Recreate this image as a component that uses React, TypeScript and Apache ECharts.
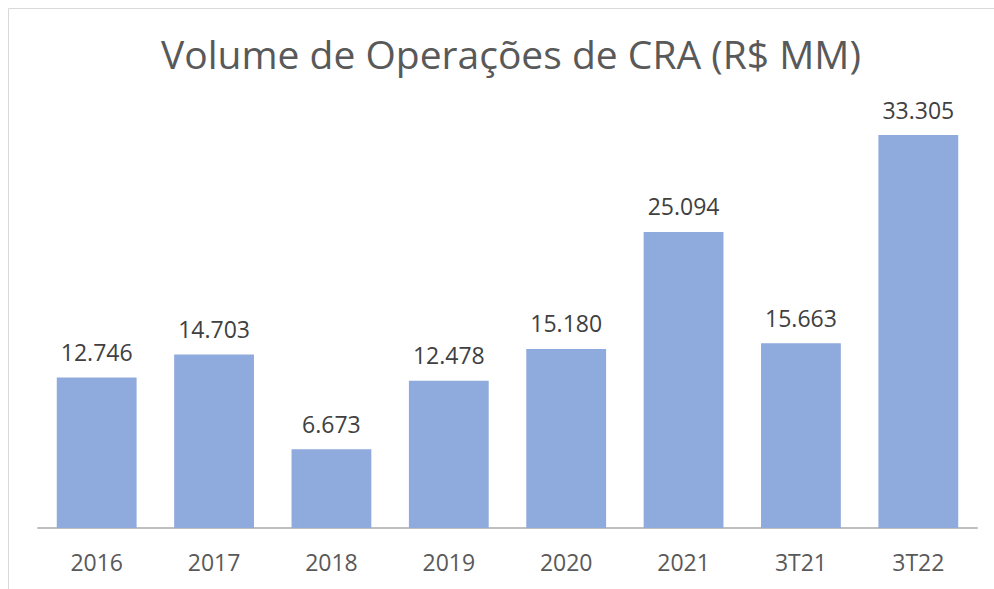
import React, { useEffect, useRef } from "react";
import * as echarts from "echarts";

const categories = ["2016", "2017", "2018", "2019", "2020", "2021", "3T21", "3T22"];
const values = [12746, 14703, 6673, 12478, 15180, 25094, 15663, 33305];
const titleText = "Volume de Operações de CRA (R$ MM)";

const fmt = (v: number) => {
  const s = String(Math.round(v));
  return s.replace(/\B(?=(\d{3})+(?!\d))/g, ".");
};

export default function App() {
  const ref = useRef<HTMLDivElement>(null);
  useEffect(() => {
    if (!ref.current) return;
    const chart = echarts.init(ref.current, undefined, { renderer: "svg" });
    chart.setOption({
      animation: false,
      backgroundColor: "#ffffff",
      title: {
        text: titleText,
        left: 156,
        top: 29,
        textStyle: {
          fontFamily: "Open Sans",
          fontWeight: "normal",
          fontSize: 39,
          color: "#595959",
        },
      },
      graphic: [
        {
          type: "rect",
          shape: { x: 8.5, y: 8.5, width: 1200, height: 1000 },
          style: { fill: "none", stroke: "#d9d9d9", lineWidth: 1 },
          silent: true,
        },
      ],
      grid: { left: 38, right: 17, top: 115, bottom: 61, containLabel: false },
      xAxis: {
        type: "category",
        data: categories,
        axisLine: { lineStyle: { color: "#bfbfbf", width: 2 } },
        axisTick: { show: false },
        axisLabel: {
          fontFamily: "Open Sans",
          fontSize: 23,
          color: "#595959",
          margin: 22,
        },
      },
      yAxis: {
        type: "value",
        min: 0,
        max: 35000,
        show: false,
        splitLine: { show: false },
      },
      series: [
        {
          type: "bar",
          data: values,
          barWidth: "68%",
          itemStyle: { color: "#8faadc" },
          label: {
            show: true,
            position: "top",
            distance: 14,
            formatter: (p: any) => fmt(p.value),
            fontFamily: "Open Sans",
            fontSize: 23,
            color: "#404040",
          },
        },
      ],
    });
    return () => chart.dispose();
  }, []);
  return (
    <div
      ref={ref}
      style={{ position: "absolute", left: 0, top: 0, width: 994, height: 589 }}
    />
  );
}
